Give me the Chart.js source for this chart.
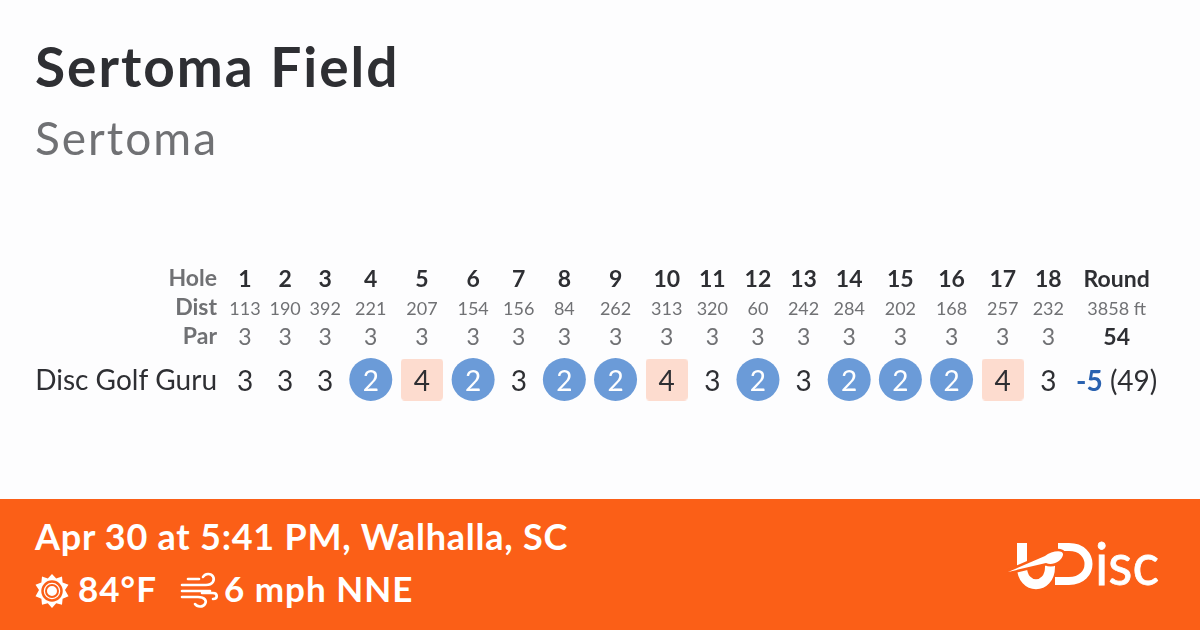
<!DOCTYPE html>
<html>
<head>
<meta charset="utf-8">
<script src="https://cdn.jsdelivr.net/npm/chart.js@4"></script>
<style>
html,body{margin:0;padding:0;background:#fdfdfe;width:1200px;height:630px;overflow:hidden;font-family:Lato,sans-serif}
#myChart{display:block}
#foot{position:absolute;left:0;top:499px;width:1200px;height:131px;background:#fb5f17;color:#fff}
#foot div,#foot svg{position:absolute}
#when{left:35px;top:15px;font-size:36px;font-weight:700;white-space:nowrap;letter-spacing:.75px}
.w{top:68px;font-size:35px;font-weight:700;white-space:nowrap;letter-spacing:1px}
</style>
</head>
<body>
<canvas id="myChart" width="1200" height="499"></canvas>
<div id="foot">
  <div id="when">Apr 30 at 5:41 PM, Walhalla, SC</div>
  <svg style="left:34px;top:74px" width="36" height="36" viewBox="-18 -18 36 36">
    <path fill="#fff" d="M0-17 4.2-12.5 10-14.5 10.6-8.600 16.500-6.200 13-1 16.500 5.300 10.600 7.800 10 13.800 4.200 12.300 0 17-4.200 12.300-10 13.800-10.600 7.800-16.500 5.300-13-1-16.500-6.200-10.600-8.600-10-14.500-4.200-12.500Z"/>
    <circle r="9.500" cy="0" fill="#fff" stroke="#fb5f17" stroke-width="2.500"/>
    <circle r="6" fill="none" stroke="#fb5f17" stroke-width="2"/>
  </svg>
  <div class="w" style="left:78px">84°F</div>
  <svg style="left:180px;top:72px" width="40" height="38" viewBox="0 0 40 38" fill="none" stroke="#fff" stroke-width="2.600" stroke-linecap="round">
    <path d="M2 14H26C33 14 35 9 33 5.500 31 2 25 2 23 6"/>
    <path d="M2 20H30"/>
    <path d="M2 26H18C25 26 27 30 25 33 23 36.500 17 36 15 33"/>
    <path d="M22 22H33C38 22 38 28 33 28"/>
    <path d="M8 8H19"/>
  </svg>
  <div class="w" style="left:224px">6 mph NNE</div>
  <svg style="left:1005px;top:42px" width="160" height="50" viewBox="0 0 160 50">
    <path fill="none" stroke="#fff" stroke-width="10" d="M17 2V26C17 49 45 49 45 26V14"/>
    <path fill="none" stroke="#fff" stroke-width="8" d="M53 6H64C90 6 90 40 64 40H50"/>
    <path fill="#fb5f17" stroke="#fb5f17" stroke-width="5" d="M3 31 40 15C46 10 59 8 58 14 56 21 47 25 41 22Z"/>
    <path fill="#fff" d="M3 31 40 15C46 10 59 8 58 14 56 21 47 25 41 22Z"/>
    <text x="90" y="44" fill="#fff" stroke="#fff" stroke-width=".8" font-family="Lato" font-size="58" font-weight="400" textLength="64" lengthAdjust="spacingAndGlyphs">isc</text>
  </svg>
</div>
<script>
const courseName = 'Sertoma Field';
const layoutName = 'Sertoma';
const playerName = 'Disc Golf Guru';

const holes = ['1','2','3','4','5','6','7','8','9','10','11','12','13','14','15','16','17','18'];
const dists = [113,190,392,221,207,154,156,84,262,313,320,60,242,284,202,168,257,232];
const pars  = [3,3,3,3,3,3,3,3,3,3,3,3,3,3,3,3,3,3];
const scores= [3,3,3,2,4,2,3,2,2,4,3,2,3,2,2,2,4,3];

const roundHead = 'Round';
const roundDist = '3858 ft';
const roundPar  = '54';
const roundDiff = '-5';
const roundThrows = '(49)';

const rowLabels = ['Hole','Dist','Par',playerName];

var FONT = 'Lato';
var GREY = '#707174', DARK = '#2e2f33', BLUE = '#2a62b0';
var rows = [0,1,2,3.5];  // the score row sits a bit away from the header rows

var ctx0 = document.createElement('canvas').getContext('2d');
function tw(txt,font){ ctx0.font = font; return ctx0.measureText(txt).width; }

// column widths work like an auto table: widest cell + padding
var fHole = 'bold 23px '+FONT, fDist = '18px '+FONT, fPar = '23px '+FONT, fScore = '28px '+FONT;
var edges = [0], centres = [];
holes.forEach(function(h,i){
  var w = Math.max(tw(h,fHole), tw(dists[i],fDist)) + 9;
  if (scores[i] != pars[i]) w = Math.max(w,51.5);
  centres.push(edges[i]+w/2);
  edges.push(edges[i]+w);
});
var lastW = tw(roundDiff+' '+roundThrows, fScore)+16;
var roundX = edges[18]+lastW/2;
var xMax = edges[18]+lastW;

// point style for the over par squares
function squareMark(){
  var c = document.createElement('canvas');
  c.width = 42; c.height = 42;
  var g = c.getContext('2d');
  g.fillStyle = '#fddccf';
  g.beginPath();
  g.roundRect(0,0,42,42,4);
  g.fill();
  return c;
}

var under = [], over = [];
holes.forEach(function(h,i){
  if (scores[i] < pars[i]) under.push({x:centres[i],y:rows[3]});
  if (scores[i] > pars[i]) over.push({x:centres[i],y:rows[3]});
});

var cellText = {
  id:'cellText',
  afterDatasetsDraw:function(chart){
    var c = chart.ctx, sx = chart.scales.x, sy = chart.scales.y;
    function put(txt,val,row,font,col){
      c.font = font; c.fillStyle = col;
      c.fillText(txt,sx.getPixelForValue(val),sy.getPixelForValue(rows[row])+2);
    }
    c.save();
    c.textAlign = 'center'; c.textBaseline = 'middle';
    holes.forEach(function(h,i){
      put(h,centres[i],0,fHole,DARK);
      put(dists[i],centres[i],1,fDist,GREY);
      put(pars[i],centres[i],2,fPar,GREY);
      put(scores[i],centres[i],3,fScore,scores[i]<pars[i]?'#fff':DARK);
    });
    put(roundHead,roundX,0,fHole,DARK);
    put(roundDist,roundX,1,fDist,GREY);
    put(roundPar,roundX,2,fHole,DARK);
    var fDiff = 'bold 28px '+FONT;
    var a = tw(roundDiff,fDiff), b = tw(' '+roundThrows,fScore);
    var left = sx.getPixelForValue(roundX)-(a+b)/2, y = sy.getPixelForValue(rows[3])+2;
    c.textAlign = 'left';
    c.font = fDiff; c.fillStyle = BLUE; c.fillText(roundDiff,left,y);
    c.font = fScore; c.fillStyle = DARK; c.fillText(' '+roundThrows,left+a,y);
    c.restore();
  }
};

// the title font is a bit narrow, open it up while the title block draws
var titleSpacing = {
  id:'titleSpacing',
  beforeDraw:function(chart){ chart.ctx.letterSpacing = '2px'; },
  beforeDatasetsDraw:function(chart){ chart.ctx.letterSpacing = '0px'; }
};

const config = {
  type: 'scatter',
  data: {
    datasets:[
      {label:'under',data:under,pointStyle:'circle',pointRadius:21.5,pointHoverRadius:21.5,backgroundColor:'#6b9bd8',borderWidth:0,clip:false},
      {label:'over',data:over,pointStyle:squareMark(),backgroundColor:'#fddccf',borderWidth:0,clip:false}
    ]
  },
  options: {
    responsive:false,
    animation:false,
    devicePixelRatio:1,
    layout:{padding:{left:35,right:35,top:0,bottom:90.5}},
    plugins:{
      legend:{display:false},
      tooltip:{enabled:false},
      title:{display:true,text:courseName,align:'start',color:DARK,
        font:{family:FONT,size:55,weight:'bold',lineHeight:1.2},padding:{top:36,bottom:10.5}},
      subtitle:{display:true,text:layoutName,align:'start',color:GREY,
        font:{family:FONT,size:46,weight:'normal',lineHeight:1.2},padding:{top:0,bottom:95.8}}
    },
    scales:{
      x:{type:'linear',display:false,min:0,max:xMax},
      y:{type:'linear',reverse:true,min:-0.5,max:4.5,
        grid:{display:false,drawTicks:false},border:{display:false},
        afterBuildTicks:function(ax){ ax.ticks = rows.map(function(v){return {value:v};}); },
        afterFit:function(ax){ ax.width = 190; },
        ticks:{autoSkip:false,padding:8,z:1,labelOffset:1,
          callback:function(v){ return rowLabels[rows.indexOf(v)]; },
          color:function(c){ return c.index==3?DARK:GREY; },
          font:function(c){ return c.index==3?{family:FONT,size:28}:{family:FONT,size:23,weight:'bold'}; }
        }
      }
    }
  },
  plugins:[titleSpacing,cellText]
};

var myChart = new Chart(document.getElementById('myChart'),config);
</script>
</body>
</html>
